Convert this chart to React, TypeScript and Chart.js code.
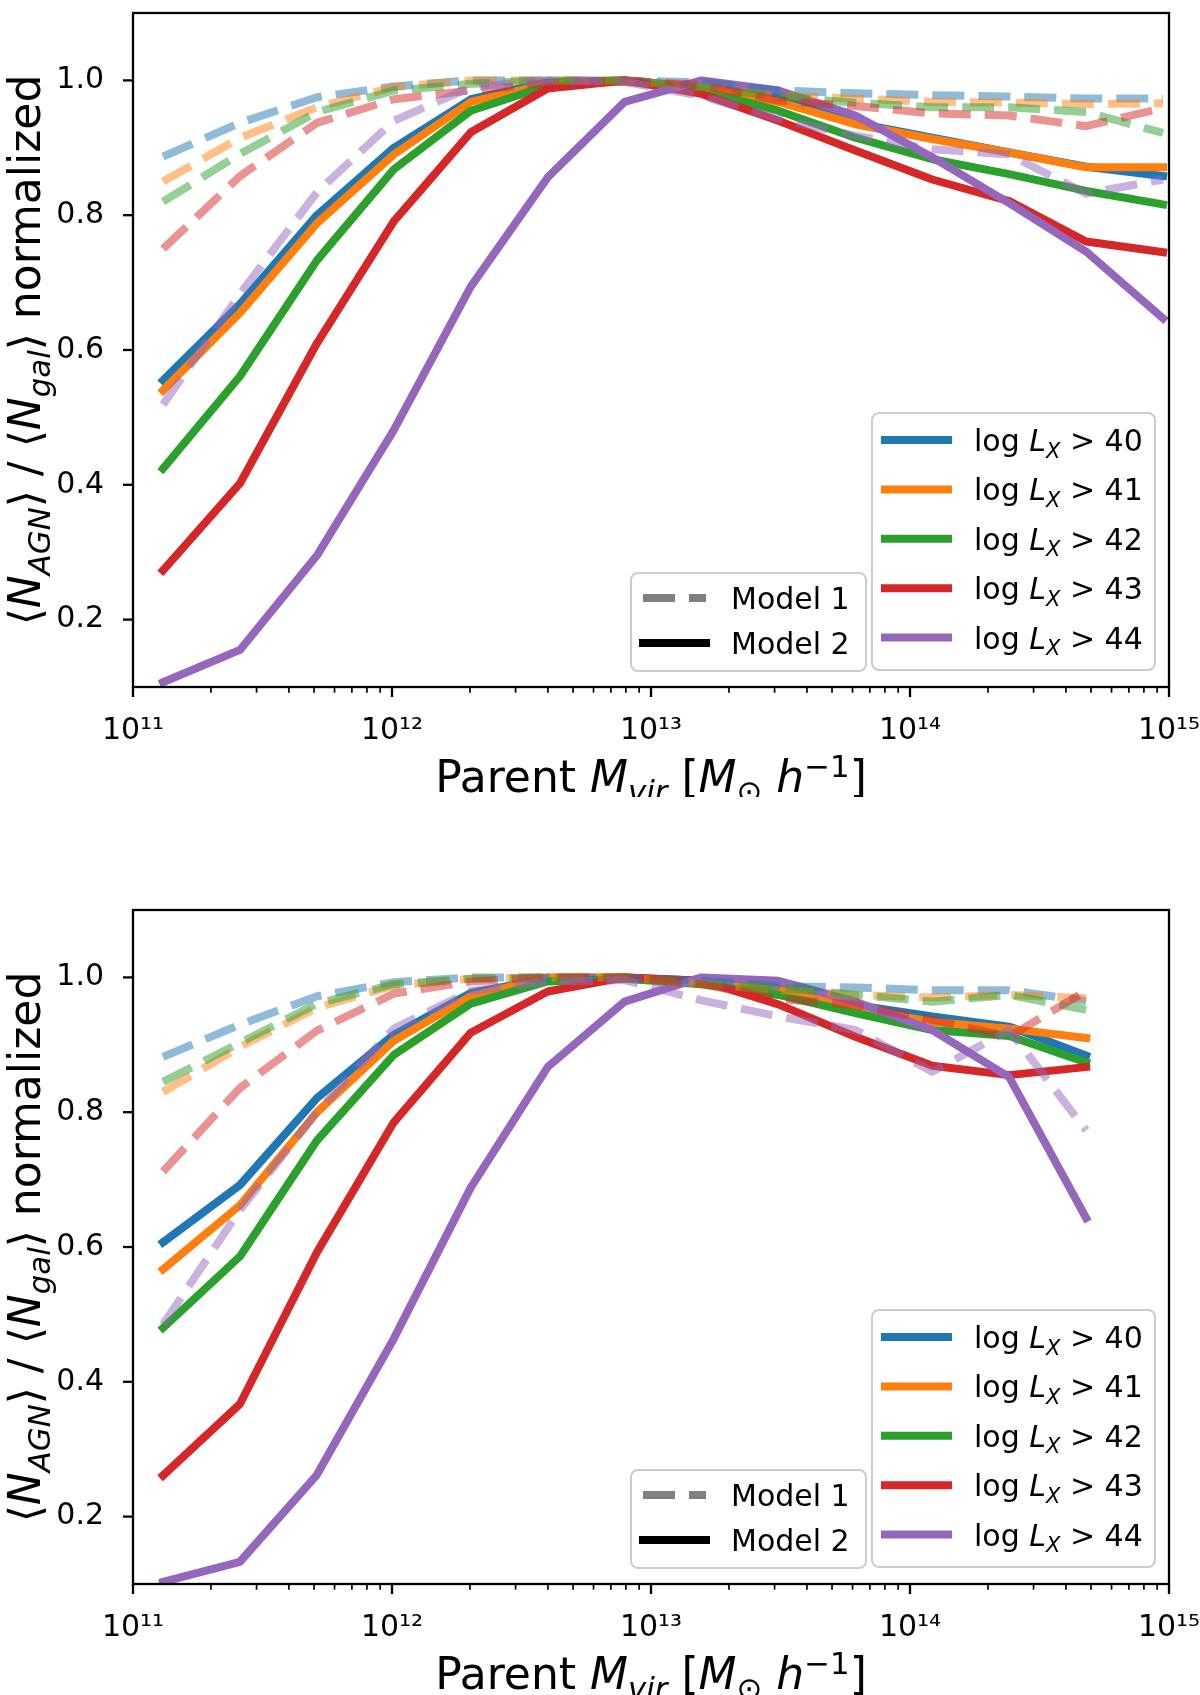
import { useEffect, useRef } from 'react';
import { Chart, registerables } from 'chart.js';

Chart.register(...registerables);

// halo mass bin centres [M_sun/h]
const haloMass = [
  1.306e11, 2.588e11, 5.129e11, 1.016e12, 2.014e12, 3.99e12, 7.907e12,
  1.567e13, 3.105e13, 6.152e13, 1.219e14, 2.415e14, 4.786e14, 9.484e14,
];

const thresholds = ['40', '41', '42', '43', '44'];
const colors = ['#1f77b4', '#ff7f0e', '#2ca02c', '#d62728', '#9467bd'];
const dashedColors = [
  'rgba(31,119,180,0.5)',
  'rgba(255,127,14,0.5)',
  'rgba(44,160,44,0.5)',
  'rgba(214,39,40,0.5)',
  'rgba(148,103,189,0.5)',
];

const yTicks = [0.2, 0.4, 0.6, 0.8, 1.0];
const xMajorTicks = [1e11, 1e12, 1e13, 1e14, 1e15];
const xTickLabels = ['10¹¹', '10¹²', '10¹³', '10¹⁴', '10¹⁵'];
const minorSteps = [2, 3, 4, 5, 6, 7, 8, 9];

// top panel, Model 2 (solid)
const topM2_40 = [0.555, 0.668, 0.8, 0.9, 0.972, 0.997, 1.0, 0.99, 0.975, 0.937, 0.915, 0.893, 0.872, 0.858];
const topM2_41 = [0.54, 0.655, 0.788, 0.89, 0.968, 0.995, 0.998, 0.99, 0.968, 0.935, 0.913, 0.893, 0.871, 0.871];
const topM2_42 = [0.424, 0.561, 0.733, 0.868, 0.955, 0.992, 1.0, 0.985, 0.955, 0.915, 0.883, 0.861, 0.836, 0.816];
const topM2_43 = [0.273, 0.402, 0.61, 0.791, 0.923, 0.988, 1.0, 0.98, 0.94, 0.896, 0.853, 0.821, 0.761, 0.745];
const topM2_44 = [0.107, 0.155, 0.295, 0.481, 0.694, 0.856, 0.968, 1.0, 0.985, 0.948, 0.886, 0.818, 0.746, 0.647];

// top panel, Model 1 (dashed)
const topM1_40 = [0.887, 0.937, 0.975, 0.991, 1.0, 1.0, 1.0, 0.997, 0.985, 0.981, 0.978, 0.976, 0.973, 0.973];
const topM1_41 = [0.85, 0.915, 0.96, 0.99, 1.0, 1.0, 1.0, 0.99, 0.977, 0.973, 0.968, 0.967, 0.965, 0.966];
const topM1_42 = [0.82, 0.891, 0.953, 0.985, 0.995, 1.0, 1.0, 0.99, 0.976, 0.967, 0.96, 0.96, 0.953, 0.922];
const topM1_43 = [0.75, 0.858, 0.937, 0.972, 0.985, 0.996, 1.0, 0.993, 0.97, 0.962, 0.951, 0.948, 0.932, 0.959];
const topM1_44 = [0.519, 0.683, 0.834, 0.94, 0.99, 1.0, 0.998, 0.977, 0.943, 0.918, 0.898, 0.89, 0.832, 0.853];

// bottom panel, Model 2 (solid)
const botM2_40 = [0.607, 0.692, 0.821, 0.915, 0.977, 0.998, 1.0, 0.995, 0.986, 0.959, 0.942, 0.927, 0.884];
const botM2_41 = [0.567, 0.662, 0.8, 0.906, 0.972, 1.0, 1.0, 0.993, 0.981, 0.954, 0.934, 0.924, 0.91];
const botM2_42 = [0.48, 0.586, 0.758, 0.885, 0.961, 0.994, 0.998, 0.99, 0.974, 0.947, 0.922, 0.913, 0.874];
const botM2_43 = [0.261, 0.367, 0.592, 0.785, 0.918, 0.979, 1.0, 0.995, 0.96, 0.912, 0.869, 0.855, 0.867];
const botM2_44 = [0.103, 0.133, 0.262, 0.464, 0.688, 0.867, 0.964, 1.0, 0.995, 0.964, 0.922, 0.852, 0.643];

// bottom panel, Model 1 (dashed)
const botM1_40 = [0.882, 0.93, 0.972, 0.993, 1.0, 1.0, 1.0, 0.995, 0.987, 0.985, 0.981, 0.981, 0.965];
const botM1_41 = [0.83, 0.897, 0.955, 0.988, 0.998, 1.0, 1.0, 0.99, 0.981, 0.974, 0.97, 0.974, 0.969];
const botM1_42 = [0.845, 0.903, 0.961, 0.99, 0.998, 1.0, 1.0, 0.99, 0.985, 0.974, 0.964, 0.974, 0.952];
const botM1_43 = [0.712, 0.836, 0.921, 0.976, 0.994, 1.0, 1.0, 0.99, 0.968, 0.959, 0.937, 0.912, 0.98];
const botM1_44 = [0.485, 0.655, 0.8, 0.924, 0.98, 0.994, 0.996, 0.966, 0.942, 0.922, 0.86, 0.922, 0.773];

const FONT = '"DejaVu Sans"';
const PLOT_H = 674;
const LABEL_SIZE = 44;

type Seg = { t: string; it?: boolean; sub?: boolean; sup?: boolean };

const xLabel: Seg[] = [
  { t: 'Parent ' },
  { t: 'M', it: true },
  { t: 'vir', it: true, sub: true },
  { t: ' [' },
  { t: 'M', it: true },
  { t: '⊙', sub: true },
  { t: ' ' },
  { t: 'h', it: true },
  { t: '−1', sup: true },
  { t: ']' },
];

const yLabel: Seg[] = [
  { t: '⟨' },
  { t: 'N', it: true },
  { t: 'AGN', it: true, sub: true },
  { t: '⟩ / ⟨' },
  { t: 'N', it: true },
  { t: 'gal', it: true, sub: true },
  { t: '⟩ normalized' },
];

function segFont(s: Seg, size: number) {
  const sz = s.sub || s.sup ? size * 0.7 : size;
  return `${s.it ? 'italic ' : ''}${sz}px ${FONT}`;
}

function richWidth(ctx: CanvasRenderingContext2D, segs: Seg[], size: number) {
  let w = 0;
  segs.forEach((s) => {
    ctx.font = segFont(s, size);
    w += ctx.measureText(s.t).width;
  });
  return w;
}

function drawRich(ctx: CanvasRenderingContext2D, segs: Seg[], x: number, y: number, size: number, center: boolean) {
  let cx = center ? x - richWidth(ctx, segs, size) / 2 : x;
  ctx.textAlign = 'left';
  ctx.textBaseline = 'alphabetic';
  ctx.fillStyle = '#000';
  segs.forEach((s) => {
    ctx.font = segFont(s, size);
    const dy = s.sub ? size * 0.22 : s.sup ? -size * 0.33 : 0;
    ctx.fillText(s.t, cx, y + dy);
    cx += ctx.measureText(s.t).width;
  });
}

function line(ctx: CanvasRenderingContext2D, x1: number, y1: number, x2: number, y2: number) {
  ctx.beginPath();
  ctx.moveTo(x1, y1);
  ctx.lineTo(x2, y2);
  ctx.stroke();
}

function legendBox(ctx: CanvasRenderingContext2D, x: number, y: number, w: number, h: number) {
  ctx.beginPath();
  ctx.roundRect(x, y, w, h, 7);
  ctx.fillStyle = 'rgba(255,255,255,0.8)';
  ctx.fill();
  ctx.lineWidth = 2;
  ctx.strokeStyle = '#cccccc';
  ctx.stroke();
}

const mplDecor = {
  id: 'mplDecor',
  afterDraw(chart: any) {
    const ctx: CanvasRenderingContext2D = chart.ctx;
    const ca = chart.chartArea;
    const xs = chart.scales.x;
    const ys = chart.scales.y;
    ctx.save();
    ctx.strokeStyle = '#000';
    ctx.lineCap = 'butt';
    ctx.setLineDash([]);

    // tick marks (outward)
    xs.ticks.forEach((t: any) => {
      const px = xs.getPixelForValue(t.value);
      ctx.lineWidth = t.major ? 2.3 : 1.7;
      line(ctx, px, ca.bottom, px, ca.bottom + (t.major ? 10 : 5.7));
    });
    ys.ticks.forEach((t: any) => {
      const py = ys.getPixelForValue(t.value);
      ctx.lineWidth = 2.3;
      line(ctx, ca.left - 10, py, ca.left, py);
    });

    // frame
    ctx.lineWidth = 2.3;
    ctx.strokeRect(ca.left, ca.top, ca.right - ca.left, ca.bottom - ca.top);

    // luminosity legend
    const rx = ca.right - 297;
    const ry = ca.bottom - 274;
    legendBox(ctx, rx, ry, 283, 257);
    thresholds.forEach((thr, i) => {
      const rowY = ry + 27 + i * 49.4;
      ctx.strokeStyle = colors[i];
      ctx.lineWidth = 8;
      line(ctx, rx + 9, rowY, rx + 80, rowY);
      drawRich(ctx, [{ t: 'log ' }, { t: 'L', it: true }, { t: 'X', it: true, sub: true }, { t: ' > ' + thr }], rx + 102, rowY + 11, 30, false);
    });

    // model legend
    const lx = ca.right - 538;
    const ly = ca.bottom - 114;
    legendBox(ctx, lx, ly, 235, 98);
    ctx.lineWidth = 8;
    ctx.strokeStyle = 'rgba(0,0,0,0.5)';
    ctx.setLineDash([32, 14]);
    line(ctx, lx + 12, ly + 25, lx + 75, ly + 25);
    ctx.setLineDash([]);
    ctx.strokeStyle = '#000';
    line(ctx, lx + 8, ly + 70, lx + 79, ly + 70);
    drawRich(ctx, [{ t: 'Model 1' }], lx + 100, ly + 36, 30, false);
    drawRich(ctx, [{ t: 'Model 2' }], lx + 100, ly + 81, 30, false);

    // axis titles
    drawRich(ctx, xLabel, (ca.left + ca.right) / 2, ca.bottom + 105, LABEL_SIZE, true);
    ctx.translate(40, (ca.top + ca.bottom) / 2);
    ctx.rotate(-Math.PI / 2);
    drawRich(ctx, yLabel, 0, 0, LABEL_SIZE, true);
    ctx.restore();
  },
};

type PanelProps = {
  top: number;
  height: number;
  padTop: number;
  solid: number[][];
  dashed: number[][];
};

function Panel({ top, height, padTop, solid, dashed }: PanelProps) {
  const chartRef = useRef<HTMLCanvasElement>(null);

  useEffect(() => {
    if (!chartRef.current) return;
    const axisHeight = height - padTop - PLOT_H;

    const toPoints = (vals: number[]) => vals.map((v, i) => ({ x: haloMass[i], y: v }));

    const solidSets = solid.map((vals, i) => ({
      label: 'Model 2 log Lx > ' + thresholds[i],
      data: toPoints(vals),
      borderColor: colors[i],
      borderWidth: 8,
      borderCapStyle: 'square' as const,
      borderJoinStyle: 'round' as const,
      pointRadius: 0,
      tension: 0,
      fill: false,
      order: 10 - i,
    }));
    const dashedSets = dashed.map((vals, i) => ({
      label: 'Model 1 log Lx > ' + thresholds[i],
      data: toPoints(vals),
      borderColor: dashedColors[i],
      borderWidth: 8,
      borderDash: [32, 14],
      borderCapStyle: 'butt' as const,
      borderJoinStyle: 'round' as const,
      pointRadius: 0,
      tension: 0,
      fill: false,
      order: 5 - i,
    }));

    const xTicks: { value: number; major: boolean }[] = [];
    xMajorTicks.forEach((d, k) => {
      xTicks.push({ value: d, major: true });
      if (k < xMajorTicks.length - 1) minorSteps.forEach((m) => xTicks.push({ value: d * m, major: false }));
    });

    const chart = new Chart(chartRef.current, {
      type: 'line',
      data: { datasets: [...solidSets, ...dashedSets] as any },
      options: {
        animation: false,
        responsive: false,
        devicePixelRatio: 1,
        layout: { padding: { top: padTop, right: 31, left: 0, bottom: 0 } },
        plugins: { legend: { display: false }, tooltip: { enabled: false } },
        scales: {
          x: {
            type: 'logarithmic',
            min: 1e11,
            max: 1e15,
            grid: { display: false },
            border: { display: false },
            afterBuildTicks: (s: any) => {
              s.ticks = xTicks.map((t) => ({ ...t }));
            },
            afterFit: (s: any) => {
              s.height = axisHeight;
              s.paddingLeft = 0;
              s.paddingRight = 0;
            },
            ticks: {
              autoSkip: false,
              maxRotation: 0,
              minRotation: 0,
              padding: 18,
              color: '#000',
              font: { family: 'DejaVu Sans', size: 30 },
              callback: (v: any) => {
                const k = xMajorTicks.indexOf(Number(v));
                return k >= 0 ? xTickLabels[k] : '';
              },
            },
          },
          y: {
            type: 'linear',
            min: 0.1,
            max: 1.1,
            grid: { display: false },
            border: { display: false },
            afterBuildTicks: (s: any) => {
              s.ticks = yTicks.map((v) => ({ value: v }));
            },
            afterFit: (s: any) => {
              s.width = 133;
              s.paddingTop = 0;
              s.paddingBottom = 0;
            },
            ticks: {
              autoSkip: false,
              padding: 21,
              color: '#000',
              font: { family: 'DejaVu Sans', size: 30 },
              callback: (v: any) => Number(v).toFixed(1),
            },
          },
        },
      },
      plugins: [mplDecor],
    });

    return () => chart.destroy();
  }, []);

  return (
    <canvas
      ref={chartRef}
      width={1200}
      height={height}
      style={{ position: 'absolute', left: 0, top, display: 'block' }}
    />
  );
}

export default function App() {
  return (
    <div style={{ position: 'absolute', left: 0, top: 0, width: 1200, height: 1695, background: '#fff', overflow: 'hidden' }}>
      <Panel
        top={0}
        height={797}
        padTop={13}
        solid={[topM2_40, topM2_41, topM2_42, topM2_43, topM2_44]}
        dashed={[topM1_40, topM1_41, topM1_42, topM1_43, topM1_44]}
      />
      <Panel
        top={797}
        height={898}
        padTop={113}
        solid={[botM2_40, botM2_41, botM2_42, botM2_43, botM2_44]}
        dashed={[botM1_40, botM1_41, botM1_42, botM1_43, botM1_44]}
      />
    </div>
  );
}
